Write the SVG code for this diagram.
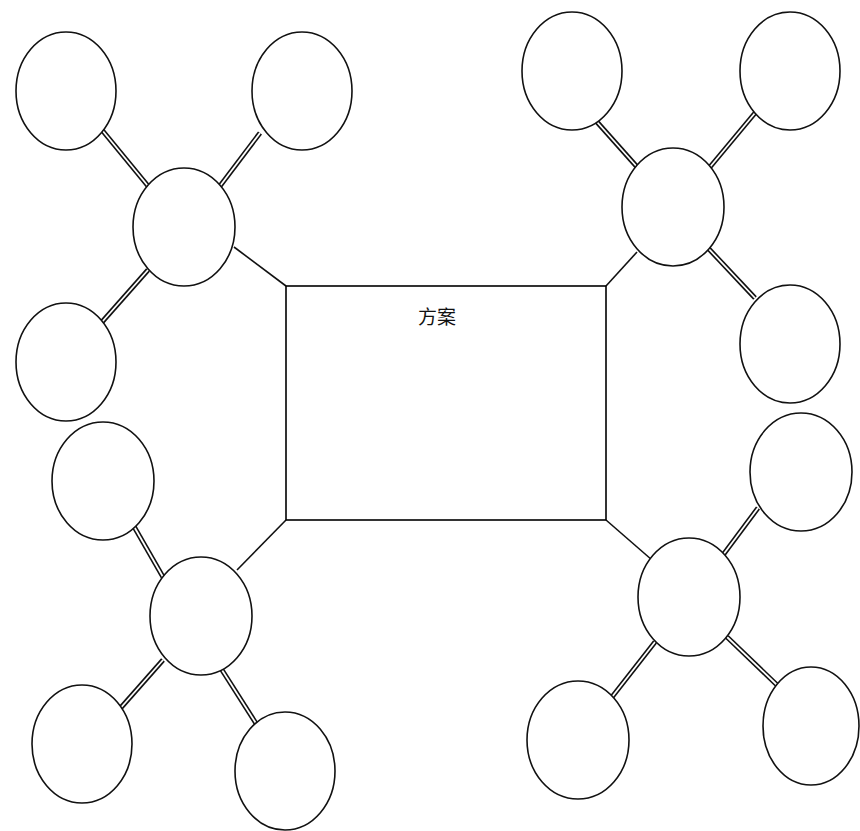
<svg xmlns="http://www.w3.org/2000/svg" width="860" height="831" viewBox="0 0 860 831">
<style>
.node{fill:#fff;stroke:#111;stroke-width:1.6}
.rect{fill:#fff;stroke:#000;stroke-width:1.6}
.single{stroke:#111;stroke-width:1.6;fill:none}
.outer{stroke:#111;stroke-width:5;fill:none}
.inner{stroke:#fff;stroke-width:1.8;fill:none}
.label{font-family:"Noto Sans CJK SC","Liberation Sans",sans-serif;font-size:19px;fill:#111;text-anchor:middle}
</style>
<rect width="860" height="831" fill="#fff"/>
<g id="connectors">
<line class="single" x1="234" y1="247" x2="286" y2="286"/>
<line class="single" x1="637" y1="252" x2="606" y2="286"/>
<line class="single" x1="237" y1="570" x2="286" y2="520"/>
<line class="single" x1="652" y1="560" x2="606" y2="520"/>
<g class="outer">
<line x1="102" y1="130" x2="148" y2="186"/>
<line x1="260" y1="133" x2="220" y2="186"/>
<line x1="148" y1="270" x2="102" y2="322"/>
<line x1="597" y1="122" x2="638" y2="168"/>
<line x1="755" y1="113" x2="710" y2="167"/>
<line x1="708" y1="248" x2="755" y2="298"/>
<line x1="132" y1="523" x2="163" y2="577"/>
<line x1="163" y1="660" x2="110" y2="720"/>
<line x1="222" y1="670" x2="257" y2="725"/>
<line x1="723" y1="555" x2="758" y2="508"/>
<line x1="655" y1="642" x2="612" y2="697"/>
<line x1="727" y1="637" x2="777" y2="685"/>
</g>
<g class="inner">
<line x1="102" y1="130" x2="148" y2="186"/>
<line x1="260" y1="133" x2="220" y2="186"/>
<line x1="148" y1="270" x2="102" y2="322"/>
<line x1="597" y1="122" x2="638" y2="168"/>
<line x1="755" y1="113" x2="710" y2="167"/>
<line x1="708" y1="248" x2="755" y2="298"/>
<line x1="132" y1="523" x2="163" y2="577"/>
<line x1="163" y1="660" x2="110" y2="720"/>
<line x1="222" y1="670" x2="257" y2="725"/>
<line x1="723" y1="555" x2="758" y2="508"/>
<line x1="655" y1="642" x2="612" y2="697"/>
<line x1="727" y1="637" x2="777" y2="685"/>
</g>
</g>
<g id="plan"><rect class="rect" x="286" y="286" width="320" height="234"/><text class="label" x="437" y="324">方案</text></g>
<g id="tl-center"><ellipse class="node" cx="184" cy="227" rx="51" ry="59"/></g>
<g id="tl-a"><ellipse class="node" cx="66" cy="91" rx="50" ry="59"/></g>
<g id="tl-b"><ellipse class="node" cx="302" cy="91" rx="50" ry="59"/></g>
<g id="tl-c"><ellipse class="node" cx="66" cy="362" rx="50" ry="59"/></g>
<g id="tr-center"><ellipse class="node" cx="673" cy="207" rx="51" ry="59"/></g>
<g id="tr-a"><ellipse class="node" cx="572" cy="71" rx="50" ry="59"/></g>
<g id="tr-b"><ellipse class="node" cx="790" cy="71" rx="50" ry="59"/></g>
<g id="tr-c"><ellipse class="node" cx="790" cy="344" rx="50" ry="59"/></g>
<g id="bl-center"><ellipse class="node" cx="201" cy="616" rx="51" ry="59"/></g>
<g id="bl-a"><ellipse class="node" cx="103" cy="481" rx="51" ry="59"/></g>
<g id="bl-b"><ellipse class="node" cx="82" cy="744" rx="50" ry="59"/></g>
<g id="bl-c"><ellipse class="node" cx="285" cy="771" rx="50" ry="59"/></g>
<g id="br-center"><ellipse class="node" cx="689" cy="597" rx="51" ry="59"/></g>
<g id="br-a"><ellipse class="node" cx="801" cy="472" rx="51" ry="59"/></g>
<g id="br-b"><ellipse class="node" cx="578" cy="740" rx="51" ry="59"/></g>
<g id="br-c"><ellipse class="node" cx="811" cy="726" rx="48" ry="59"/></g>
</svg>
